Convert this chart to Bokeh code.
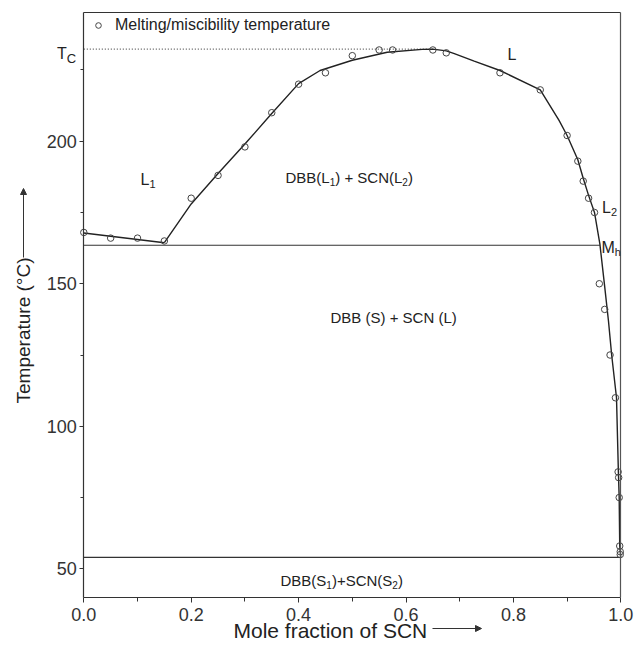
import numpy as np
from bokeh.plotting import figure
from bokeh.models import (Label, Arrow, NormalHead, Legend, LegendItem, FixedTicker,
                          LinearAxis, Range1d)
from bokeh.embed import file_html
from bokeh.resources import INLINE

# ---------------- data ----------------
# DBB-rich liquidus (L1 side)
liq_x = [0.0, 0.15]
liq_T = [167.8, 164.4]

# miscibility gap / SCN liquidus curve
curve_x = [0.15, 0.20, 0.25, 0.30, 0.35, 0.40, 0.44, 0.50, 0.565, 0.63, 0.65, 0.675,
           0.69, 0.727, 0.775, 0.85, 0.885, 0.90, 0.92, 0.93, 0.94, 0.951, 0.961,
           0.970, 0.977, 0.983, 0.992, 0.9955, 0.997, 0.998, 1.0]
curve_T = [164.4, 178.0, 188.7, 199.0, 209.7, 220.2, 224.8, 228.4, 231.2, 232.2, 232.3, 231.7,
           230.7, 228.1, 224.8, 218.0, 207.3, 202.0, 193.5, 187.0, 181.0, 175.0, 164.0,
           149.0, 137.0, 125.0, 110.0, 84.0, 75.0, 58.0, 54.0]

# measured melting / miscibility temperatures
pts_x = [0.0, 0.05, 0.10, 0.15, 0.20, 0.25, 0.30, 0.35, 0.40, 0.45, 0.50, 0.55, 0.575,
         0.65, 0.675, 0.775, 0.85, 0.90, 0.92, 0.93, 0.94, 0.951, 0.96, 0.97, 0.98,
         0.99, 0.995, 0.996, 0.997, 0.998, 0.999, 0.999]
pts_T = [168.0, 166.0, 166.0, 165.0, 180.0, 188.0, 198.0, 210.0, 220.0, 224.0, 230.0, 232.0, 232.0,
         232.0, 231.0, 224.0, 218.0, 202.0, 193.0, 186.0, 180.0, 175.0, 150.0, 141.0, 125.0,
         110.0, 84.0, 82.0, 75.0, 58.0, 56.0, 55.0]

Tc = 232.3          # critical temperature
Tc_x = [0.0, 0.65]
mono_T = 163.5      # monotectic
mono_x = [0.0, 0.961]
eut_T = 54.0        # eutectic
eut_x = [0.0, 1.0]

x_lim = (0.0, 1.0)
y_lim = (40.0, 245.0)
x_ticks = [0.0, 0.2, 0.4, 0.6, 0.8, 1.0]
x_minor = [0.1, 0.3, 0.5, 0.7, 0.9]
y_ticks = [50, 100, 150, 200]
y_minor = [75, 125, 175, 225]

FONT = "Liberation Sans"
TXT = "#222222"
LINE = "#222222"
AX = "#333333"

W_PX, H_PX = 636, 659
X0, XS = 83.3, 537.0          # pixel of x=0, pixels per unit
Y200, YS = 140.7, 2.8507      # pixel of T=200, pixels per degree

def fx(px):
    return (px - X0) / XS

def fy(py):
    return 200 - (py - Y200) / YS

p = figure(width=W_PX, height=H_PX,
           x_range=Range1d(fx(0), fx(W_PX)), y_range=Range1d(fy(H_PX), fy(0)),
           output_backend="svg", toolbar_location=None,
           min_border=0, min_border_left=0, min_border_right=0,
           min_border_top=0, min_border_bottom=0)
p.grid.visible = False
p.outline_line_color = None

def style_axis(ax):
    ax.axis_line_color = AX
    ax.axis_line_width = 1.2
    ax.major_tick_line_color = AX
    ax.minor_tick_line_color = AX
    ax.major_tick_in = 0
    ax.minor_tick_in = 0
    ax.major_label_text_font = FONT
    ax.major_label_text_font_size = "18px"
    ax.major_label_text_color = "#333333"

xa = p.xaxis[0]
style_axis(xa)
xa.fixed_location = y_lim[0]
xa.bounds = x_lim
xa.ticker = FixedTicker(ticks=x_ticks, minor_ticks=x_minor)
xa.major_label_overrides = {t: f"{t:.1f}" for t in x_ticks}
xa.major_tick_out = 5
xa.minor_tick_out = 4
xa.major_label_standoff = 6

ya = p.yaxis[0]
style_axis(ya)
ya.fixed_location = x_lim[0]
ya.bounds = y_lim
ya.ticker = FixedTicker(ticks=y_ticks, minor_ticks=y_minor)
ya.major_tick_out = 4
ya.minor_tick_out = 3
ya.major_label_standoff = 3

# top and right frame edges as plain axes
top = LinearAxis(fixed_location=y_lim[1], bounds=x_lim, ticker=FixedTicker(ticks=[]),
                 axis_line_color=AX, axis_line_width=1.2, major_label_text_alpha=0)
right = LinearAxis(fixed_location=x_lim[1], bounds=y_lim, ticker=FixedTicker(ticks=[]),
                   axis_line_color="#555555", axis_line_width=1.2, major_label_text_alpha=0)
p.add_layout(top, "above")
p.add_layout(right, "right")

# lines
p.line(Tc_x, [Tc, Tc], line_color="#555555", line_width=1.2, line_dash="1 2")
p.line(mono_x, [mono_T, mono_T], line_color="#333333", line_width=1.2)
p.line(eut_x, [eut_T, eut_T], line_color="#333333", line_width=1.2)
p.line(liq_x, liq_T, line_color=LINE, line_width=1.4)
p.line(curve_x, curve_T, line_color=LINE, line_width=1.4)
pts = p.scatter(pts_x, pts_T, marker="circle", size=6.5, fill_alpha=0,
                line_color="#444444", line_width=1)

leg = Legend(items=[LegendItem(label="Melting/miscibility temperature", renderers=[pts])],
             location=(91, H_PX - 35), padding=0, margin=0, spacing=0,
             glyph_width=14, glyph_height=20, label_height=20, label_standoff=10,
             label_text_font=FONT, label_text_font_size="16px", label_text_color=TXT,
             border_line_alpha=0, background_fill_alpha=0)
p.add_layout(leg, "center")

# ---- text helpers ----
W = {" ": 278, "(": 333, ")": 333, "+": 584, "/": 278, "°": 400,
     "A": 667, "B": 667, "C": 722, "D": 722, "L": 556, "M": 833, "N": 722, "S": 667, "T": 611,
     "a": 556, "b": 556, "c": 500, "e": 556, "f": 278, "g": 556, "h": 556, "i": 222, "l": 222,
     "m": 833, "n": 556, "o": 556, "p": 556, "r": 333, "s": 500, "t": 278, "u": 556, "y": 500}

def tw(s, size):
    return sum(W.get(c, 556) for c in s) * size / 1000.0

def rich(pieces, px, py):
    for text, size, dy in pieces:
        p.add_layout(Label(x=fx(px), y=fy(py + dy), text=text, text_font=FONT,
                           text_font_size=f"{size}px", text_color=TXT,
                           text_align="left", text_baseline="alphabetic"))
        px += tw(text, size)

rich([("T", 16, 0), ("C", 13, 4.5)], 56.5, 53.3)
rich([("L", 16, 0)], 507, 54)
rich([("L", 16, 0), ("1", 11, 4.5)], 140, 179.3)
rich([("DBB(L", 15, 0), ("1", 10, 4), (") + SCN(L", 15, 0), ("2", 10, 4), (")", 15, 0)], 285, 177.3)
rich([("L", 16, 0), ("2", 11, 5)], 601.5, 206.7)
rich([("M", 16, 0), ("h", 11, 5)], 601, 246.7)
rich([("DBB (S) + SCN (L)", 15, 0)], 330, 317)
rich([("DBB(S", 15, 0), ("1", 10, 4), (")+SCN(S", 15, 0), ("2", 10, 4), (")", 15, 0)], 280, 580)

# axis titles with arrows
p.add_layout(Label(x=fx(23), y=fy(330), text="Temperature (°C)", text_font=FONT,
                   text_font_size="19px", text_color=TXT, angle=np.pi / 2,
                   text_align="center", text_baseline="middle"))
p.add_layout(Arrow(end=NormalHead(size=6, fill_color=AX, line_color=AX),
                   x_start=fx(23), y_start=fy(257), x_end=fx(23), y_end=fy(188),
                   line_color=AX, line_width=1))
p.add_layout(Label(x=fx(233), y=fy(630), text="Mole fraction of SCN", text_font=FONT,
                   text_font_size="21px", text_color=TXT,
                   text_align="left", text_baseline="middle"))
p.add_layout(Arrow(end=NormalHead(size=6, fill_color=AX, line_color=AX),
                   x_start=fx(432), y_start=fy(628), x_end=fx(481), y_end=fy(628),
                   line_color=AX, line_width=1))

open("out.html", "w").write(file_html(p, INLINE))
